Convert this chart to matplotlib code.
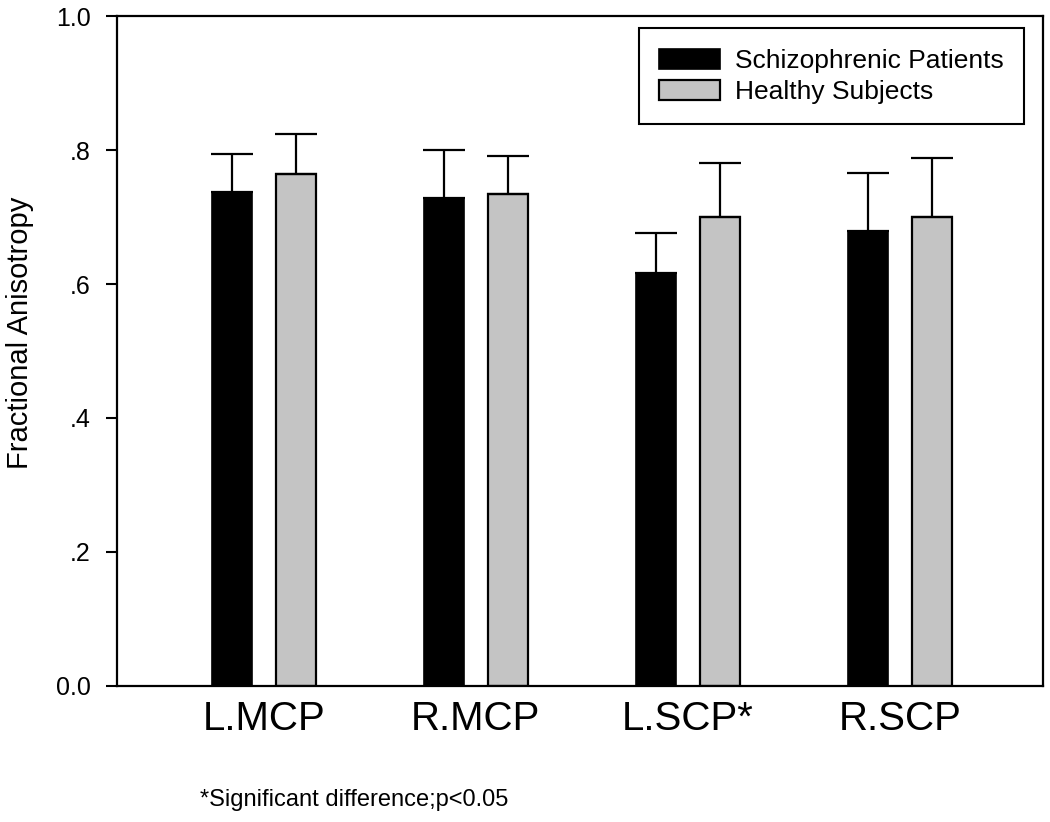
import numpy as np
import matplotlib
matplotlib.use("Agg")
import matplotlib.pyplot as plt

plt.rcParams['font.family'] = ['Liberation Sans', 'DejaVu Sans']

""" Data """
regions = ["L.MCP", "R.MCP", "L.SCP*", "R.SCP"]
patients = [0.737, 0.729, 0.616, 0.679]
patients_err = [0.057, 0.071, 0.060, 0.087]
healthy = [0.764, 0.735, 0.700, 0.700]
healthy_err = [0.060, 0.056, 0.081, 0.088]
ytick_vals = [0.0, 0.2, 0.4, 0.6, 0.8, 1.0]
ytick_labels = ["0.0", ".2", ".4", ".6", ".8", "1.0"]

""" Main Body """
fig = plt.figure(figsize=(10.5, 8.22), dpi=100)
ax = fig.add_axes([0.1114, 0.1655, 0.8819, 0.815])

x = np.arange(len(regions))
off, w = 0.151, 0.19
ekw = dict(elinewidth=1.6, capthick=1.6, ecolor="black")
ax.bar(x - off, patients, w, color="black", edgecolor="black", linewidth=1.2,
       yerr=[np.zeros(len(x)), patients_err], capsize=15, error_kw=ekw,
       label="Schizophrenic Patients")
ax.bar(x + off, healthy, w, color="#c4c4c4", edgecolor="black", linewidth=1.6,
       yerr=[np.zeros(len(x)), healthy_err], capsize=15, error_kw=ekw,
       label="Healthy Subjects")

ax.set_xlim(-0.693, 3.675)
ax.set_ylim(0, 1.0)
ax.set_yticks(ytick_vals)
ax.set_yticklabels(ytick_labels, fontsize=18)
ax.set_xticks(x)
ax.set_xticklabels(regions, fontsize=29)
ax.tick_params(axis="x", length=0, pad=10)
ax.tick_params(axis="y", length=8, width=1.5, direction="out", pad=11)
for s in ax.spines.values():
    s.set_linewidth(1.6)

ax.set_ylabel("Fractional Anisotropy", fontsize=21)
ax.yaxis.set_label_coords(-0.09, 0.527)

leg = ax.legend(loc="upper right", bbox_to_anchor=(0.9795, 0.982), borderaxespad=0,
                fontsize=19, fancybox=False, edgecolor="black", framealpha=1,
                handlelength=2.3, handleheight=0.8, handletextpad=0.55,
                labelspacing=0.25, borderpad=0.78)
leg.get_frame().set_linewidth(1.5)

fig.text(0.19, 0.027, "*Significant difference;p<0.05", fontsize=17, ha="left", va="center")

fig.savefig("out.png", dpi=100)
